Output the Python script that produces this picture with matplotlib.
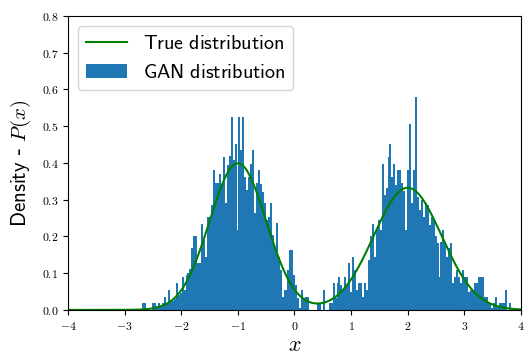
import numpy as np
import matplotlib
matplotlib.use("Agg")
import matplotlib.pyplot as plt
from matplotlib.ticker import FuncFormatter, MultipleLocator

plt.rcParams["mathtext.fontset"] = "cm"

# Two-component Gaussian mixture used as the reference density
modes = [-1.0, 2.0]
scales = [0.5, 0.6]
weights = [0.5, 0.5]

# GAN samples, already binned into a density histogram
bin_start = -2.723
bin_width = 0.03466
gan_density = [
    0, 0.018, 0.018, 0, 0, 0, 0.018, 0.018, 0.01, 0.018, 0.01, 0.018, 0.035, 0.02,
    0.054, 0.025, 0.025, 0.03, 0.073, 0.04, 0.045, 0.09, 0.054, 0.095, 0.1, 0.11, 0.168, 0.2,
    0.2, 0.127, 0.127, 0.233, 0.19, 0.145, 0.254, 0.254, 0.286, 0.381, 0.345, 0.345, 0.369, 0.342,
    0.417, 0.29, 0.395, 0.42, 0.526, 0.408, 0.451, 0.218, 0.526, 0.435, 0.526, 0.363, 0.327, 0.363,
    0.396, 0.435, 0.263, 0.345, 0.381, 0.342, 0.322, 0.29, 0.245, 0.254, 0.29, 0.204, 0.172, 0.236,
    0.145, 0.109, 0.036, 0.054, 0.054, 0.109, 0.163, 0.163, 0.095, 0.068, 0.032, 0.005, 0.054, 0.032,
    0.035, 0.035, 0, 0, 0, 0, 0.018, 0.018, 0, 0.054, 0, 0, 0.018, 0.018,
    0.073, 0.032, 0.073, 0.09, 0.068, 0.054, 0.09, 0.068, 0.127, 0.05, 0.145, 0.109, 0.054, 0.073,
    0.073, 0.036, 0.073, 0.054, 0.136, 0.2, 0.233, 0.145, 0.218, 0.245, 0.218, 0.396, 0.313, 0.331,
    0.417, 0.451, 0.363, 0.396, 0.34, 0.381, 0.381, 0.345, 0.324, 0.218, 0.381, 0.505, 0.29, 0.381,
    0.58, 0.308, 0.272, 0.299, 0.254, 0.29, 0.286, 0.231, 0.254, 0.245, 0.2, 0.181, 0.09, 0.186,
    0.218, 0.186, 0.145, 0.168, 0.181, 0.073, 0.09, 0.109, 0.09, 0.073, 0.109, 0.09, 0.09, 0.05,
    0.054, 0.054, 0.073, 0.073, 0.09, 0.09, 0.09, 0.035, 0.035, 0.018, 0.018, 0.005, 0.018, 0.035,
    0.01, 0.018, 0.018, 0.018, 0.054, 0, 0.018,
]

edges = bin_start + bin_width * np.arange(len(gan_density) + 1)
centers = 0.5 * (edges[:-1] + edges[1:])

xs = np.linspace(-4, 4, 1000)
true_pdf = np.zeros_like(xs)
for m, s, w in zip(modes, scales, weights):
    true_pdf += w * np.exp(-0.5 * ((xs - m) / s) ** 2) / (s * np.sqrt(2 * np.pi))

fig = plt.figure(figsize=(5.24, 3.55), dpi=100)
ax = fig.add_axes([0.130, 0.127, 0.864, 0.828])

ax.plot(xs, true_pdf, color="green", lw=1.5, label=r"$\mathsf{True\ distribution}$")
ax.hist(centers, bins=edges, weights=gan_density, color="#1f77b4",
        label=r"$\mathsf{GAN\ distribution}$")

ax.set_xlim(-4, 4)
ax.set_ylim(0, 0.8)
ax.xaxis.set_major_locator(MultipleLocator(1))
ax.yaxis.set_major_locator(MultipleLocator(0.1))
ax.xaxis.set_major_formatter(FuncFormatter(lambda v, p: f"${v:.0f}$"))
ax.yaxis.set_major_formatter(FuncFormatter(lambda v, p: f"${v:.1f}$"))
ax.tick_params(labelsize=8.5)

ax.set_xlabel(r"$x$", fontsize=16, labelpad=2)
ax.set_ylabel(r"$\mathsf{Density}$ - $P(x)$", fontsize=15, labelpad=6,
              family="DejaVu Sans")
ax.legend(loc="upper left", fontsize=14.5)

fig.savefig("out.png", dpi=100)
